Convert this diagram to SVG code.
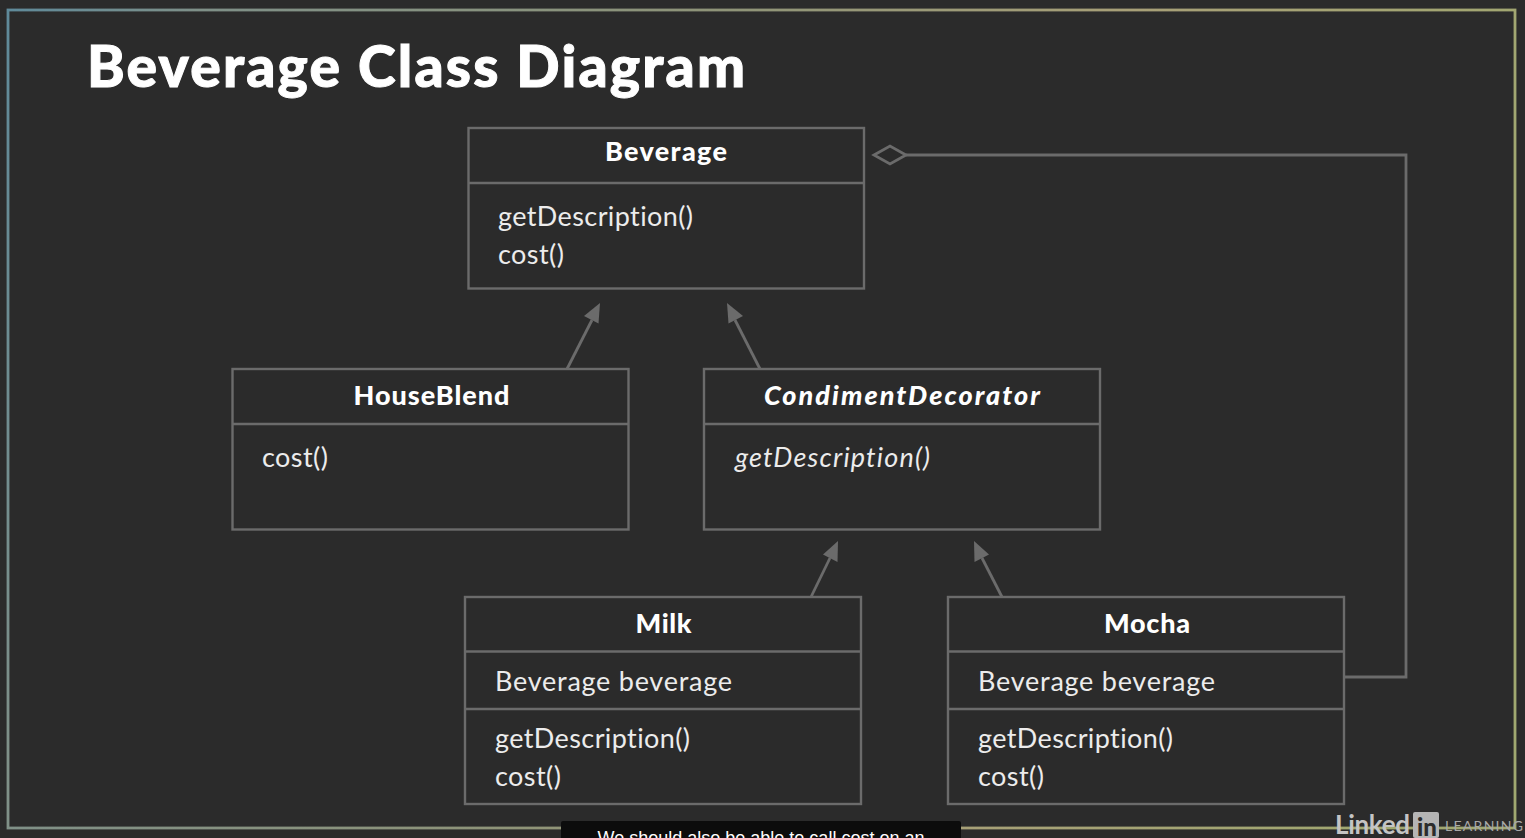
<svg xmlns="http://www.w3.org/2000/svg" width="1525" height="838" viewBox="0 0 1525 838">
<style>
.box{fill:none;stroke:#6b6b6b;stroke-width:2.4}
.line{fill:none;stroke:#6b6b6b;stroke-width:2.8}
.head{fill:#6b6b6b;stroke:none}
text{font-family:"Lato","Open Sans","Liberation Sans",sans-serif;fill:#ececec;font-variant-ligatures:none}
.name{font-size:27px;font-weight:900;text-anchor:middle;fill:#fff}
.m{font-size:27px;font-weight:400}
.i{font-style:italic}
</style>
<defs>
<linearGradient id="frame" gradientUnits="userSpaceOnUse" x1="8" y1="10" x2="1515" y2="400">
<stop offset="0" stop-color="#5f8a9a"/>
<stop offset="0.12" stop-color="#7f9088"/>
<stop offset="0.45" stop-color="#8f9478"/>
<stop offset="0.7" stop-color="#a8a078"/>
<stop offset="1" stop-color="#a0a870"/>
</linearGradient>
</defs>
<rect width="1525" height="838" fill="#2b2b2b"/>
<rect x="8" y="10" width="1507" height="818" fill="none" stroke="url(#frame)" stroke-width="2.8"/>
<text x="87" y="87" font-size="57" font-weight="900" textLength="658" stroke="#fff" stroke-width="1" style="fill:#fff">Beverage Class Diagram</text>
<g id="connectors">
<path class="line" d="M567 369L592 320"/><path class="head" d="M600 303L584 316L598.500 323.500Z"/>
<path class="line" d="M760 369L735 320"/><path class="head" d="M727 303L728.500 323.500L743 316Z"/>
<path class="line" d="M811 597L830 558"/><path class="head" d="M838 541L823 554.500L837.500 562Z"/>
<path class="line" d="M1002 597L982 558"/><path class="head" d="M974 541L974.500 562L989 554.500Z"/>
<path class="line" d="M1344 677H1406V155H906"/>
<path class="line" d="M874 155L890 146L906 155L890 164Z"/>
</g>
<g id="beverage">
<rect class="box" x="468.500" y="128" width="395.500" height="160.500"/><path class="box" d="M468.500 183H864"/>
<text class="name" x="666" y="161" textLength="122">Beverage</text>
<text class="m" x="498" y="226" textLength="195">getDescription()</text><text class="m" x="498" y="264" textLength="66">cost()</text>
</g>
<g id="houseblend">
<rect class="box" x="232.500" y="369" width="396" height="160.500"/><path class="box" d="M232.500 424H628.500"/>
<text class="name" x="431.500" y="405" textLength="156">HouseBlend</text>
<text class="m" x="262" y="467" textLength="66">cost()</text>
</g>
<g id="condimentdecorator">
<rect class="box" x="704" y="369" width="396" height="160.500"/><path class="box" d="M704 424H1100"/>
<text class="name i" x="902" y="405" textLength="276">CondimentDecorator</text>
<text class="m i" x="735" y="467" textLength="195">getDescription()</text>
</g>
<g id="milk">
<rect class="box" x="465" y="597" width="396" height="207"/><path class="box" d="M465 651.500H861M465 709H861"/>
<text class="name" x="663.500" y="633" textLength="56">Milk</text>
<text class="m" x="495" y="691" textLength="237">Beverage beverage</text>
<text class="m" x="495" y="748" textLength="195">getDescription()</text><text class="m" x="495" y="786" textLength="66">cost()</text>
</g>
<g id="mocha">
<rect class="box" x="948" y="597" width="396" height="207"/><path class="box" d="M948 651.500H1344M948 709H1344"/>
<text class="name" x="1147" y="633" textLength="86">Mocha</text>
<text class="m" x="978" y="691" textLength="237">Beverage beverage</text>
<text class="m" x="978" y="748" textLength="195">getDescription()</text><text class="m" x="978" y="786" textLength="66">cost()</text>
</g>
<g id="caption">
<rect x="561" y="821" width="400" height="20" rx="2" fill="#0c0c0c"/>
<text x="761" y="844" font-size="18" text-anchor="middle" style="font-family:'Liberation Sans',sans-serif;fill:#fff">We should also be able to call cost on an</text>
</g>
<g id="logo">
<rect x="1413" y="812" width="26" height="26" rx="2" fill="#b5b5b5"/>
<text x="1335" y="834" font-size="26" font-weight="700" textLength="75" style="fill:#c4c4c4">Linked</text>
<text x="1417" y="836" font-size="24" font-weight="900" style="fill:#2c2c2c">in</text>
<text x="1445" y="831" font-size="14" textLength="78" style="fill:#a8a8a8">LEARNING</text>
</g>
</svg>
